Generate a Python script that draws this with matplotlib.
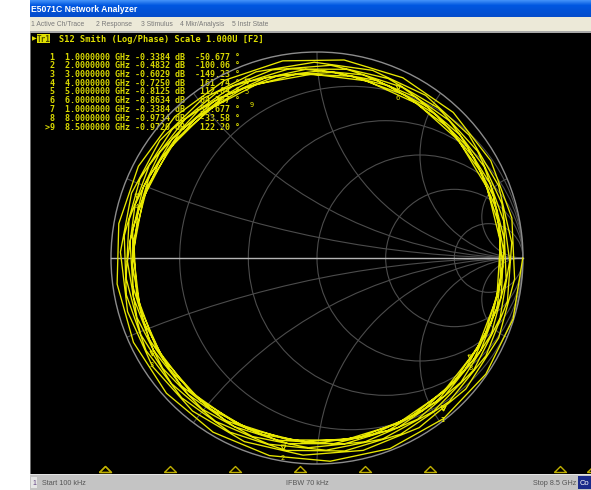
import numpy as np
import matplotlib.pyplot as plt
from matplotlib.patches import Circle, Rectangle

# marker table
mkr_num = ['1', '2', '3', '4', '5', '6', '7', '8', '>9']
mkr_freq = [1.0, 2.0, 3.0, 4.0, 5.0, 6.0, 1.0, 8.0, 8.5]  # GHz
mkr_db = [-0.3384, -0.4832, -0.6029, -0.7250, -0.8125, -0.8634, -0.3384, -0.9734, -0.9720]
mkr_phase = [-50.677, -100.06, -149.23, 161.74, 112.04, 64.387, -50.677, -33.580, 122.20]

# S12 trace anchors: freq [GHz], log mag [dB], unwrapped phase [deg]
trace_f = [0.0001, 0.5, 1.0, 1.5, 2.0, 2.5, 3.0, 3.5, 4.0, 4.5, 5.0, 5.5, 6.0, 6.5, 7.0, 7.5, 8.0, 8.5]
trace_db = [-0.01, -0.22, -0.3384, -0.44, -0.4832, -0.57, -0.6029, -0.69, -0.7250,
            -0.80, -0.8125, -0.87, -0.8634, -0.94, -0.92, -0.99, -0.9734, -0.9720]
trace_ph = [0.0, -203.0, -410.677, -617.0, -820.06, -1026.0, -1229.23, -1435.0, -1638.26,
            -1845.0, -2047.96, -2252.0, -2455.613, -2662.0, -2865.0, -3070.0, -3273.58, -3477.80]
n_pts = 201  # sweep points

r_grid = [0.2, 0.5, 1, 2, 5]
x_grid = [0.2, 0.5, 1, 2, 5]

menu_items = ['1 Active Ch/Trace', '2 Response', '3 Stimulus', '4 Mkr/Analysis', '5 Instr State']

W, H = 591, 490
fig = plt.figure(figsize=(W/100, H/100), dpi=100)
fig.patch.set_facecolor('white')

# ---------------- window chrome (pixel coords)
ax0 = fig.add_axes([0, 0, 1, 1])
ax0.axis('off')

top = np.array([0.25, 0.56, 0.97])
mid = np.array([0.00, 0.34, 0.88])
bot = np.array([0.02, 0.30, 0.80])
t = np.linspace(0, 1, 17)[:, None]
grad = np.where(t < 0.3, top + (mid-top)*(t/0.3), mid + (bot-mid)*((t-0.3)/0.7))
ax0.imshow(grad[:, None, :], extent=(30, W, 17, 0), aspect='auto', interpolation='bilinear')
ax0.text(31, 9, 'E5071C Network Analyzer', color='white', fontsize=6.2, weight='bold',
         family='Liberation Sans', va='center', ha='left')

ax0.add_patch(Rectangle((30, 17), W-30, 15, color='#ece9d8', lw=0))
ax0.add_patch(Rectangle((30, 31), W-30, 2, color='#a8a8a8', lw=0))
menu_x = [31, 96, 141, 180, 232]
for mx, s in zip(menu_x, menu_items):
    ax0.text(mx, 24.5, s, color='#7a7a7a', fontsize=4.9, family='Liberation Sans',
             va='center', ha='left')

ax0.add_patch(Rectangle((30, 33), W-30, 441, color='black', lw=0))
ax0.add_patch(Rectangle((29.5, 33), 1, 441, color='#707070', lw=0))

# status bar
ax0.add_patch(Rectangle((30, 474), W-30, 16, color='#c4c4c4', lw=0))
ax0.add_patch(Rectangle((30, 474), W-30, 1, color='#e4e4e4', lw=0))
ax0.add_patch(Rectangle((31, 477), 6, 11, color='#e6e6e6', lw=0))
ax0.text(34, 483, '1', color='#604080', fontsize=5, family='Liberation Sans', va='center', ha='center')
ax0.text(42, 483, 'Start 100 kHz', color='#555555', fontsize=5.2, family='Liberation Sans', va='center')
ax0.text(286, 483, 'IFBW 70 kHz', color='#555555', fontsize=5.2, family='Liberation Sans', va='center')
ax0.text(576, 483, 'Stop 8.5 GHz', color='#555555', fontsize=5.2, family='Liberation Sans',
         va='center', ha='right')
ax0.add_patch(Rectangle((578, 476), 14, 13, color='#1a2a8a', lw=0))
ax0.text(580, 483, 'Co', color='white', fontsize=5.4, family='Liberation Sans', va='center')

# trace header
ax0.text(32, 39, '\u25b6', color='#e0e000', fontsize=4.5, va='center', ha='left')
ax0.add_patch(Rectangle((37, 34.5), 13, 9, color='#e0e000', lw=0))
ax0.text(43.5, 39, 'Tr1', color='#505000', fontsize=5.5, family='DejaVu Sans Mono',
         weight='bold', va='center', ha='center')
ax0.text(59, 39, 'S12 Smith (Log/Phase) Scale 1.000U [F2]', color='#e0e000', fontsize=6.2,
         family='DejaVu Sans Mono', weight='bold', va='center', ha='left')

# marker table
for i in range(len(mkr_num)):
    p = mkr_phase[i]
    ptxt = ('%.5g' % p) if abs(p) < 100 else '%.2f' % p
    line = '%2s  %.7f GHz %.4f dB  %7s \u00b0' % (mkr_num[i], mkr_freq[i], mkr_db[i], ptxt)
    ax0.text(45, 57 + i*8.75, line, color='#d8d800', fontsize=6.0, family='DejaVu Sans Mono',
             weight='bold', va='center', ha='left')

ax0.set_xlim(0, W)
ax0.set_ylim(H, 0)

# ---------------- smith chart
cx, cy, R = 317, 258, 206
ax = fig.add_axes([(cx-R)/W, (H-cy-R)/H, 2*R/W, 2*R/H])
ax.set_xlim(-1, 1)
ax.set_ylim(-1, 1)
ax.axis('off')

unit = Circle((0, 0), 1, transform=ax.transData, fill=False, lw=0)
ax.add_patch(unit)
for r in r_grid:
    ax.add_patch(Circle((r/(1+r), 0), 1/(1+r), fill=False, ec='#4c4c4c', lw=0.8))
for x in x_grid:
    for s in (1, -1):
        c = Circle((1, s/x), 1/x, fill=False, ec='#4c4c4c', lw=0.8)
        ax.add_patch(c)
        c.set_clip_path(unit)
ax.add_patch(Circle((0, 0), 1, fill=False, ec='#8c8c8c', lw=1.0, clip_on=False))
ax.plot([-1, 1], [0, 0], color='#b4b4b4', lw=1.0, clip_on=False)

f = np.linspace(trace_f[0], trace_f[-1], n_pts)
mag = 10**(np.interp(f, trace_f, trace_db)/20)
ph = np.deg2rad(np.interp(f, trace_f, trace_ph))
g = mag*np.exp(1j*ph)
ax.plot(g.real, g.imag, color='#e8e800', lw=0.95, clip_on=False)

mg = 10**(np.array(mkr_db)/20)
mp = np.deg2rad(mkr_phase)
mx_, my_ = mg*np.cos(mp), mg*np.sin(mp)
ax.plot(mx_, my_ + 0.015, 'v', ms=3.5, mfc='none', mec='#e8e800', mew=0.8, ls='none', clip_on=False)
for i in range(len(mkr_num)):
    off = (24, -2) if i == len(mkr_num) - 1 else (0, -6)
    ax.annotate(mkr_num[i].strip('>'), (mx_[i], my_[i]), xytext=off, textcoords='offset points',
                color='#e8e800', fontsize=5, ha='center', va='center', family='DejaVu Sans Mono')

# ---------------- stimulus axis marker triangles
ax2 = fig.add_axes([40/W, (H-472)/H, 552.5/W, 6/H])
ax2.set_xlim(0, 8.5)
ax2.set_ylim(0, 1)
ax2.axis('off')
tri = [(-1, -0.5), (1, -0.5), (0, 0.5), (-1, -0.5)]
ax2.plot(mkr_freq, [0.5]*len(mkr_freq), marker=tri, ms=8.6, mfc='none', mec='#c0b000',
         mew=1.0, ls='none', clip_on=False)

fig.savefig('out.png', dpi=100, facecolor='white')
